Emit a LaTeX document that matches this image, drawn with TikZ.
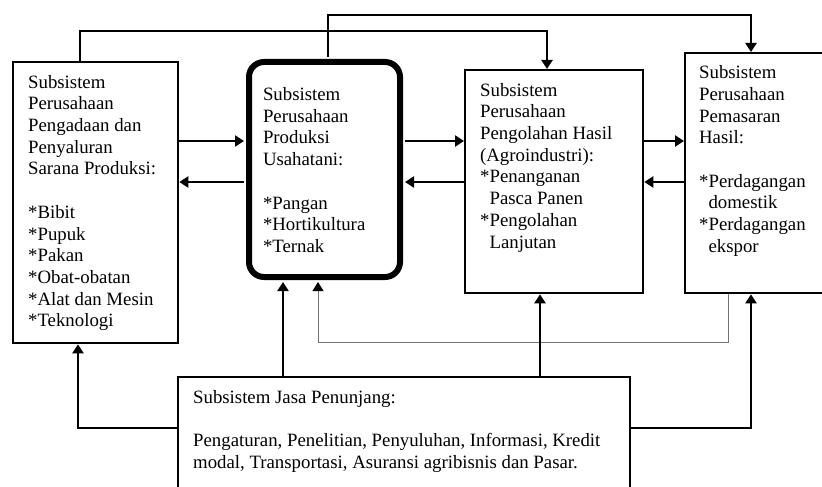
\documentclass[tikz,border=0pt]{standalone}
\usepackage{fontspec}
\setmainfont{Liberation Serif}
\usetikzlibrary{arrows.meta, positioning}
\newcommand{\isi}[4]{\parbox[c][#2][t]{#1}{\rule{0pt}{#3}#4}}

\begin{document}
\begin{tikzpicture}[x=1pt, y=-1pt,
        box/.style={draw, line width=2.3pt, anchor=north west, inner xsep=15pt, inner ysep=0pt, font=\fontsize{18.8}{21.7}\selectfont},
        arr/.style={-{Triangle[length=9pt, width=11pt]}, line width=2.2pt},
        tipis/.style={-{Triangle[length=9pt, width=11pt, black]}, line width=1pt, draw=black!55}
    ]
        \clip (0,0) rectangle (822,487);
        \node[box] (sarana) at (12,61) {\isi{135pt}{281pt}{26pt}{Subsistem\\ Perusahaan\\ Pengadaan dan\\ Penyaluran\\ Sarana Produksi:\\[21.7pt] {*}Bibit\\ {*}Pupuk\\ {*}Pakan\\ {*}Obat-obatan\\ {*}Alat dan Mesin\\ {*}Teknologi}};
        \node[box, line width=6pt, rounded corners=15pt, inner xsep=14pt] (usahatani) at (246,59) {\isi{123pt}{215pt}{38.5pt}{Subsistem\\ Perusahaan\\ Produksi\\ Usahatani:\\[21.7pt] {*}Pangan\\ {*}Hortikultura\\ {*}Ternak}};
        \node[box] (olahan) at (464,69) {\isi{148pt}{223pt}{26pt}{Subsistem\\ Perusahaan\\ Pengolahan Hasil\\ (Agroindustri):\\ {*}Penanganan\\ \hphantom{*}Pasca Panen\\ {*}Pengolahan\\ \hphantom{*}Lanjutan}};
        \node[box, inner xsep=14pt] (pemasaran) at (684,52) {\isi{132pt}{240pt}{25.5pt}{Subsistem\\ Perusahaan\\ Pemasaran\\ Hasil:\\[21.7pt] {*}Perdagangan\\ \hphantom{*}domestik\\ {*}Perdagangan\\ \hphantom{*}ekspor}};
        \node[box] (jasa) at (177,376) {\isi{422pt}{124pt}{26pt}{Subsistem Jasa Penunjang:\\[21.7pt] Pengaturan, Penelitian, Penyuluhan, Informasi, Kredit\\ modal, Transportasi, Asuransi agribisnis dan Pasar.}};

        \draw[arr, shorten >=2pt] (sarana.east |- 0,141) -- (usahatani.west |- 0,141);
        \draw[arr, shorten <=2pt] (usahatani.west |- 0,182) -- (sarana.east |- 0,182);
        \draw[arr, shorten <=2pt] (usahatani.east |- 0,141) -- (olahan.west |- 0,141);
        \draw[arr, shorten >=2pt] (olahan.west |- 0,182) -- (usahatani.east |- 0,182);
        \draw[arr] (olahan.east |- 0,141) -- (pemasaran.west |- 0,141);
        \draw[arr] (pemasaran.west |- 0,182) -- (olahan.east |- 0,182);

        \draw[arr] (sarana.north -| 80,0) |- (547,31) -- (olahan.north -| 547,0);
        \draw[arr, shorten <=2pt] (usahatani.north -| 328,0) |- (751,15) -- (pemasaran.north -| 751,0);

        \draw[tipis] (pemasaran.south -| 728,0) |- (318,342) -- ([yshift=-2pt]usahatani.south -| 318,0);
        \draw[arr] (jasa.west |- 0,428) -| (sarana.south -| 78,0);
        \draw[arr, shorten >=2pt] (jasa.north -| 283,0) -- (usahatani.south -| 283,0);
        \draw[arr] (jasa.north -| 540,0) -- (olahan.south -| 540,0);
        \draw[arr] (jasa.east |- 0,428) -| (pemasaran.south -| 751,0);
    \end{tikzpicture}
\end{document}
